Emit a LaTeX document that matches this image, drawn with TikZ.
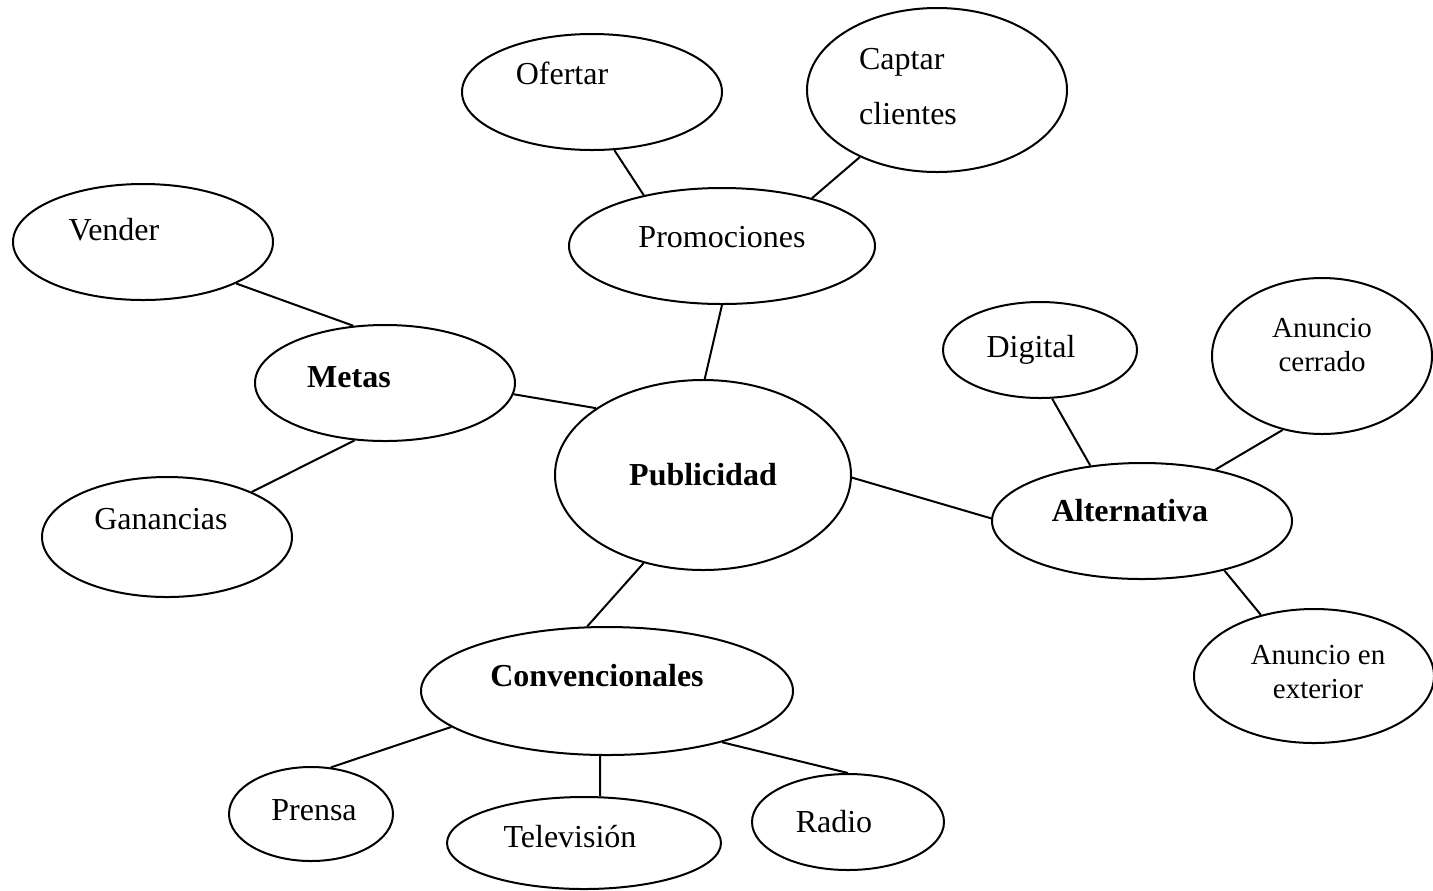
\documentclass[tikz,border=0pt]{standalone}
\usepackage{fontspec}
\setmainfont{Liberation Serif}
\usetikzlibrary{shapes.geometric}

\begin{document}
\begin{tikzpicture}[x=0.5pt,y=-0.5pt,
 ell/.style={ellipse,draw,line width=1pt,inner sep=0pt},
 txt/.style={font=\fontsize{16}{19}\selectfont,inner sep=0pt},
 sm/.style={font=\fontsize{14.5}{17}\selectfont,align=center,inner sep=0pt},
 link/.style={line width=1pt}]
\useasboundingbox (0,0) rectangle (1433,890);
% top branch
\node[ell,minimum width=130pt,minimum height=58pt,label={[txt,xshift=-15pt,yshift=9.5pt]center:Ofertar}] (ofertar) at (592,92) {};
\node[ell,minimum width=130pt,minimum height=82pt,label={[txt,font=\fontsize{16}{27.5}\selectfont,align=left,xshift=-14.5pt,yshift=1.5pt]center:Captar\\clientes}] (captar) at (937,90) {};
\node[ell,minimum width=153pt,minimum height=58pt,label={[txt,yshift=4.5pt]center:Promociones}] (promo) at (722,246) {};
% left branch
\node[ell,minimum width=130pt,minimum height=58pt,label={[txt,xshift=-14.5pt,yshift=6pt]center:Vender}] (vender) at (143,242) {};
\node[ell,minimum width=130pt,minimum height=58pt,label={[txt,xshift=-18pt,yshift=3pt]center:\bfseries Metas}] (metas) at (385,383) {};
\node[ell,minimum width=125pt,minimum height=60pt,label={[txt,xshift=-3pt,yshift=9pt]center:Ganancias}] (ganancias) at (167,537) {};
% centre
\node[ell,minimum width=148pt,minimum height=95pt,label={[txt]center:\bfseries Publicidad}] (publi) at (703,475) {};
% right branch
\node[ell,minimum width=97pt,minimum height=48pt,label={[txt,xshift=-4.5pt]center:Digital}] (digital) at (1040,350) {};
\node[ell,minimum width=110pt,minimum height=78pt,label={[sm,yshift=5.5pt]center:Anuncio\\cerrado}] (cerrado) at (1322,356) {};
\node[ell,minimum width=150pt,minimum height=58pt,label={[txt,xshift=-6pt,yshift=5pt]center:\bfseries Alternativa}] (alter) at (1142,521) {};
\node[ell,minimum width=120pt,minimum height=67pt,label={[sm,xshift=2pt,yshift=2pt]center:Anuncio en\\exterior}] (exterior) at (1314,676) {};
% bottom branch
\node[ell,minimum width=186pt,minimum height=64pt,label={[txt,xshift=-5pt,yshift=7.5pt]center:\bfseries Convencionales}] (conv) at (607,691) {};
\node[ell,minimum width=82pt,minimum height=47pt,label={[txt,xshift=1.5pt,yshift=2pt]center:Prensa}] (prensa) at (311,814) {};
\node[ell,minimum width=137pt,minimum height=46pt,label={[txt,xshift=-7pt,yshift=3pt]center:Televisión}] (tele) at (584,843) {};
\node[ell,minimum width=96pt,minimum height=48pt,label={[txt,xshift=-7pt]center:Radio}] (radio) at (848,822) {};
% connectors
\draw[link] (ofertar.-69) -- (promo.147);
\draw[link] (captar.-139) -- (promo.28);
\draw[link] (promo.-90) -- (publi.89);
\draw[link] (vender.-24) -- (metas.119);
\draw[link] (metas.-5) -- (publi.148);
\draw[link] (metas.-118) -- (ganancias.28);
\draw[link] (publi.-1) -- (alter.179);
\draw[link] (digital.-76) -- (alter.133);
\draw[link] (cerrado.-118) -- (alter.35);
\draw[link] (alter.-31) -- (exterior.131);
\draw[link] (publi.-124) -- (conv.107);
\draw[link] (conv.-167) -- (prensa.67);
\draw[link] (conv.-96) -- (tele.71);
\draw[link] (conv.-24) -- (radio.90);
\end{tikzpicture}
\end{document}
